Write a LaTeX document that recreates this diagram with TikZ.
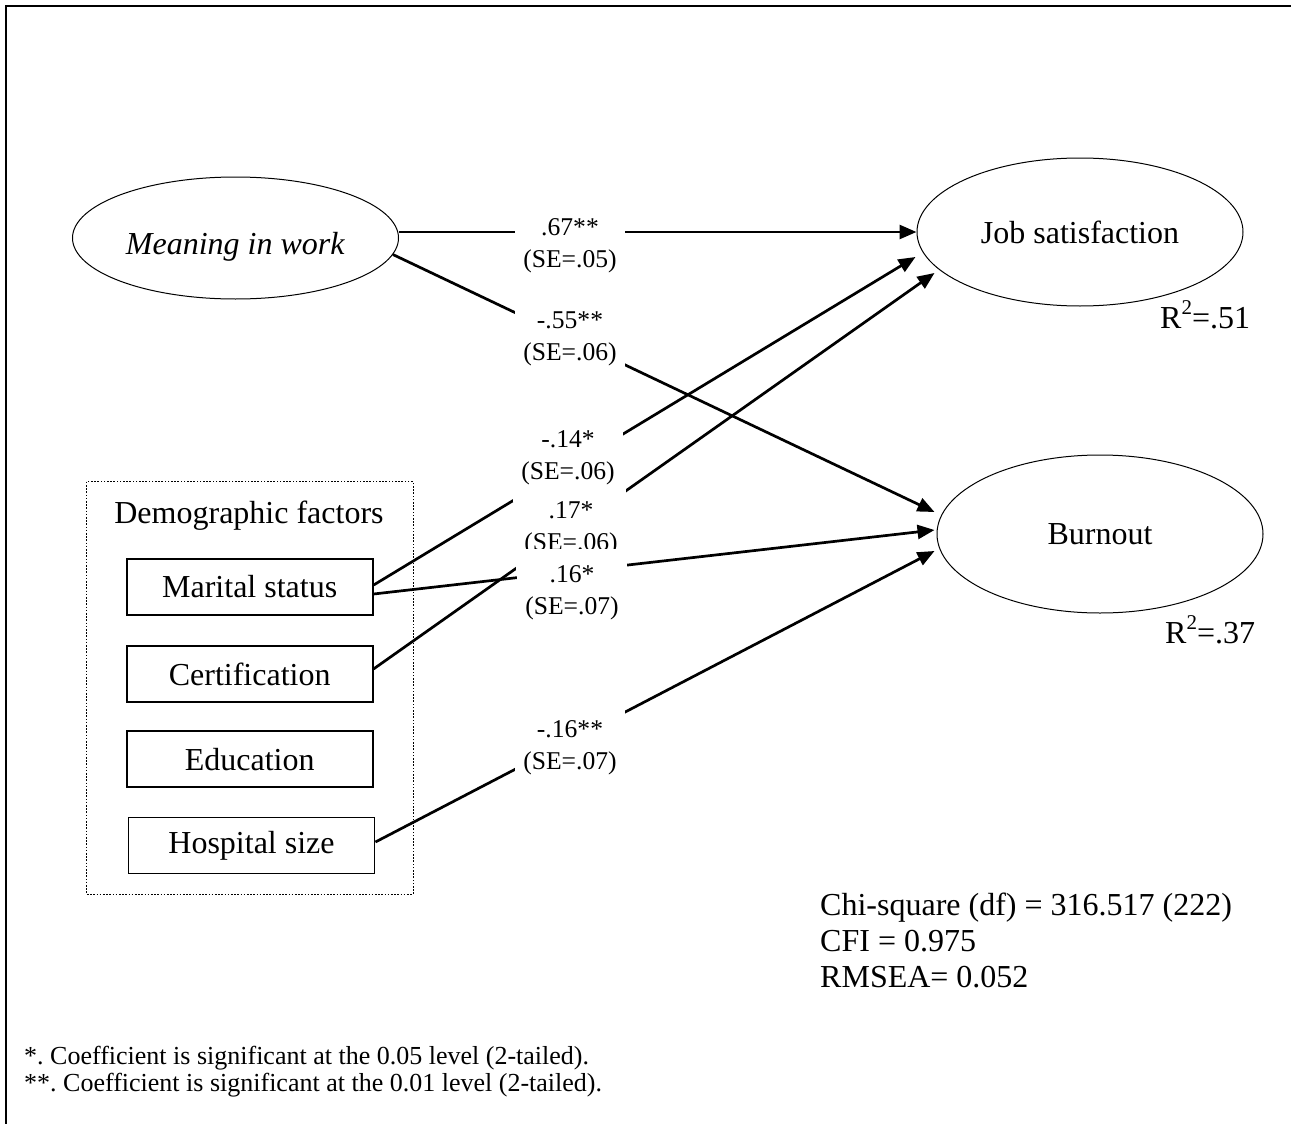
\documentclass[tikz,border=0pt]{standalone}
\usepackage{fontspec}
\setmainfont{Liberation Serif}
\usetikzlibrary{shapes.geometric,arrows.meta}
\newcommand\rsqsize{\fontsize{21}{21}\selectfont}
\frenchspacing

\begin{document}
\begin{tikzpicture}[x=1pt,y=-1pt,
  bigtext/.style={font=\fontsize{32}{38}\selectfont},
  latent/.style={ellipse,draw,line width=1pt,minimum width=326pt,inner sep=0pt,bigtext},
  observed/.style={rectangle,draw,line width=1.9pt,minimum width=246pt,minimum height=56pt,inner sep=0pt,bigtext},
  effect/.style={line width=2.7pt,-{Triangle[length=17pt,width=14pt]}},
  coef/.style={fill=white,align=center,inner xsep=8pt,inner ysep=17pt,font=\fontsize{25.6}{32}\selectfont},
  note/.style={align=left,inner sep=0pt,anchor=north west}
]
\useasboundingbox (0,0) rectangle (1291,1124);

% page frame
\draw[line width=2.3pt] (6,1124) -- (6,5.7) -- (1291,5.7);

% latent variables
\node[latent,minimum height=122pt,text height=39pt,text depth=7pt] (miw) at (235.5,238) {\textit{Meaning in work}};
\node[latent,minimum height=148pt] (js) at (1080,232) {Job satisfaction};
\node[latent,minimum height=158pt] (bo) at (1100,534) {Burnout};

\node[bigtext,anchor=base west,inner sep=0pt] (r2js) at (1160,328) {R\raisebox{0.42em}{\rsqsize 2}=.51};
\node[bigtext,anchor=base west,inner sep=0pt] (r2bo) at (1165,643) {R\raisebox{0.42em}{\rsqsize 2}=.37};

% demographic block
\draw[line width=0.9pt,dash pattern=on 1.6pt off 1.6pt] (86.7,481.7) rectangle (413,894.3);
\node[bigtext] (demo) at (249,515.5) {Demographic factors};
\node[observed] (ms)   at (249.7,587)   {Marital status};
\node[observed] (cert) at (249.7,673.9) {Certification};
\node[observed] (edu)  at (249.7,759.4) {Education};
\node[observed] (hosp) at (251.5,845.5) {Hospital size};

% structural paths
\draw[effect] ([yshift=6pt]miw.east) -- (js.west);
\draw[effect] (miw.-6) -- ([xshift=-2pt,yshift=22pt]bo.west);
\draw[effect] ([yshift=2pt]ms.east) -- ([xshift=-1pt,yshift=-25pt]js.west);
\draw[effect] ([yshift=5pt]cert.east) -- ([xshift=18pt,yshift=-41pt]js.west);
\draw[effect] ([yshift=-7pt]ms.east) -- ([xshift=-2pt,yshift=4pt]bo.west);
\draw[effect] ([yshift=3.5pt]hosp.east) -- ([xshift=-2pt,yshift=-17pt]bo.west);

% path coefficients
\node[coef] (c1) at (570,246) {.67**\\(SE=.05)};
\node[coef] (c2) at (570,339) {-.55**\\(SE=.06)};
\node[coef] (c3) at (568,458) {-.14*\\(SE=.06)};
\node[coef] (c4) at (571,529) {.17*\\(SE=.06)};
\node[coef] (c5) at (572,593) {.16*\\(SE=.07)};
\node[coef] (c6) at (570,748) {-.16**\\(SE=.07)};

% fit indices
\node[note,font=\fontsize{32}{36}\selectfont] (fit) at (820,893) {Chi-square (df) = 316.517 (222)\\CFI = 0.975\\RMSEA= 0.052};

% significance notes
\node[note,font=\fontsize{26}{27}\selectfont] (sig) at (24,1046) {*. Coefficient is significant at the 0.05 level (2-tailed).\\**. Coefficient is significant at the 0.01 level (2-tailed).};
\end{tikzpicture}
\end{document}
